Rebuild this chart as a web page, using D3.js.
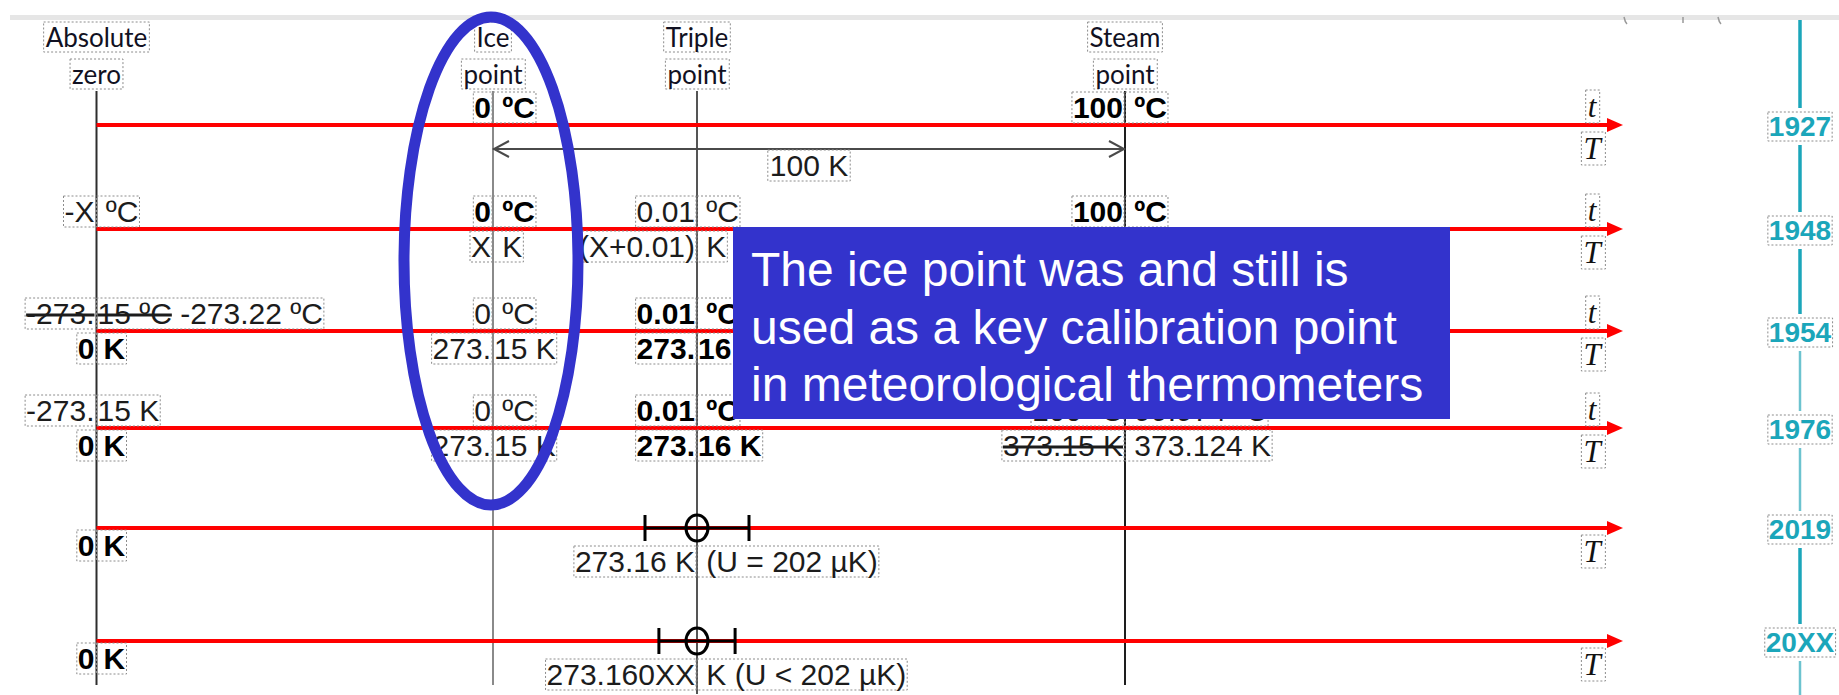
<!DOCTYPE html>
<head>
<title>Fixed points of the temperature scale, 1927 - 20XX</title>
<meta charset="utf-8">
<style>
body { margin: 0; background: #fff; }
svg { display: block; }
text { white-space: pre; }
.num { font: 30px "Liberation Sans", Arial, sans-serif; fill: #1c1c1c; }
.num.defined { font-weight: bold; fill: #000; }
.head { font: 26px Lato, "Open Sans", sans-serif; fill: #111122; }
.box { fill: none; stroke: #8c8c8c; stroke-width: 1; stroke-dasharray: 2,2; }
.year { font: bold 28px "Liberation Sans", Arial, sans-serif; fill: #1ba6ba; }
.var { font: italic 31px "Liberation Serif", serif; fill: #111; }
.note text { font: 48px "Liberation Sans", Arial, sans-serif; fill: #fff; }
</style>
</head>
<body>
<svg width="1839" height="695"></svg>
<script src="https://d3js.org/d3.v7.min.js"></script>
<script>
/* global d3 */
const years = ["1927", "1948", "1954", "1976", "2019", "20XX"];
const points = ["abs", "ice", "triple", "steam"];
const pointNames = [["Absolute", "zero"], ["Ice", "point"], ["Triple", "point"], ["Steam", "point"]];
// years whose scale still shows a Celsius axis t above the arrow
const celsiusYears = ["1927", "1948", "1954", "1976"];
// uncertainty of the triple point (µK)
const tpYears = ["2019", "20XX"];
const tpUncertainty = [202, 148];
const intervalLabel = "100 K";
const note = ["The ice point was and still is", "used as a key calibration point", "in meteorological thermometers"];

// label text: left of the point line | right of it; ~...~ = struck out; defined = fixed by definition
const labels = [
  {year: "1927", point: "ice", side: "above", left: "0", right: " ºC", defined: true},
  {year: "1927", point: "steam", side: "above", left: "100", right: " ºC", defined: true},
  {year: "1948", point: "abs", side: "above", left: "-X", right: " ºC"},
  {year: "1948", point: "ice", side: "above", left: "0", right: " ºC", defined: true},
  {year: "1948", point: "ice", side: "below", left: "X", right: " K"},
  {year: "1948", point: "triple", side: "above", left: "0.01", right: " ºC"},
  {year: "1948", point: "triple", side: "below", left: "(X+0.01)", right: " K"},
  {year: "1948", point: "steam", side: "above", left: "100", right: " ºC", defined: true},
  {year: "1954", point: "abs", side: "above", left: "~-273.~", right: "~15 ºC~ -273.22 ºC"},
  {year: "1954", point: "abs", side: "below", left: "0", right: "\u2009K", defined: true},
  {year: "1954", point: "ice", side: "above", left: "0", right: " ºC"},
  {year: "1954", point: "ice", side: "below", left: "273.", right: "15 K"},
  {year: "1954", point: "triple", side: "above", left: "0.01", right: " ºC", defined: true},
  {year: "1954", point: "triple", side: "below", left: "273.", right: "16 K", defined: true},
  {year: "1976", point: "abs", side: "above", left: "-273.", right: "15 K"},
  {year: "1976", point: "abs", side: "below", left: "0", right: "\u2009K", defined: true},
  {year: "1976", point: "ice", side: "above", left: "0", right: " ºC"},
  {year: "1976", point: "ice", side: "below", left: "273.", right: "15 K"},
  {year: "1976", point: "triple", side: "above", left: "0.01", right: " ºC", defined: true},
  {year: "1976", point: "triple", side: "below", left: "273.", right: "16 K", defined: true},
  {year: "1976", point: "steam", side: "above", left: "~100 ºC~", right: " 99.974 ºC"},
  {year: "1976", point: "steam", side: "below", left: "~373.15 K~", right: " 373.124 K"},
  {year: "2019", point: "abs", side: "below", left: "0", right: "\u2009K", defined: true},
  {year: "2019", point: "triple", side: "under", left: "273.16 K", right: " (U = 202 µK)"},
  {year: "20XX", point: "abs", side: "below", left: "0", right: "\u2009K", defined: true},
  {year: "20XX", point: "triple", side: "under", left: "273.160XX", right: " K (U < 202 µK)"}
];

const svg = d3.select("svg");
const x = d3.scaleOrdinal().domain(points).range([96.5, 493, 697, 1125]);
const y = d3.scaleOrdinal().domain(years).range([125, 229, 331, 428, 528, 641]);
const u = d3.scaleLinear().domain([0, 202]).range([0, 52]);
const axisEnd = 1623;
const yearX = 1800;

// thin grey strip along the top, with the cut-off feet of glyphs above it
svg.append("rect").attr("x", 10).attr("y", 15).attr("width", 1829).attr("height", 5).attr("fill", "#e6e6e6");
svg.append("g").attr("stroke", "#999").attr("stroke-width", 1.5).attr("fill", "none")
  .selectAll("path").data([1625, 1683, 1719]).join("path")
  .attr("d", (d, i) => i === 1 ? `M${d},17 L${d},23` : `M${d - 1},17 Q${d},22 ${d + 2},24`);

// vertical lines of the fixed points
const lineColor = {abs: "#2e2e2e", ice: "#8a8a8a", triple: "#555", steam: "#1e1e1e"};
svg.append("g").selectAll("line").data(points).join("line")
  .attr("x1", x).attr("x2", x)
  .attr("y1", 91).attr("y2", d => d === "triple" ? 694 : 685)
  .attr("stroke", d => lineColor[d]).attr("stroke-width", 2);

// 100 K interval between ice and steam point
const iy = y("1927") + 24;
const ig = svg.append("g").attr("stroke", "#4a4a4a").attr("stroke-width", 2).attr("fill", "none");
ig.append("line").attr("x1", x("ice")).attr("x2", x("steam")).attr("y1", iy).attr("y2", iy);
ig.append("path").attr("d", `M${x("ice") + 16},${iy - 8} L${x("ice") + 1},${iy} L${x("ice") + 16},${iy + 8}`);
ig.append("path").attr("d", `M${x("steam") - 16},${iy - 8} L${x("steam") - 1},${iy} L${x("steam") - 16},${iy + 8}`);

// red scale arrows
const arrows = svg.append("g");
arrows.selectAll("line").data(years).join("line")
  .attr("x1", x("abs")).attr("x2", axisEnd - 12)
  .attr("y1", y).attr("y2", y)
  .attr("stroke", "#ff0000").attr("stroke-width", 4);
arrows.selectAll("path").data(years).join("path")
  .attr("d", d => `M${axisEnd},${y(d)} L${axisEnd - 16},${y(d) - 7} L${axisEnd - 16},${y(d) + 7} Z`)
  .attr("fill", "#ff0000");

// triple point with its uncertainty
const eb = svg.append("g").selectAll("g").data(tpYears).join("g")
  .attr("stroke", "#000").attr("stroke-width", 3).attr("fill", "none");
eb.append("line")
  .attr("x1", (d, i) => x("triple") - u(tpUncertainty[i])).attr("x2", (d, i) => x("triple") + u(tpUncertainty[i]))
  .attr("y1", y).attr("y2", y);
eb.append("line")
  .attr("x1", (d, i) => x("triple") - u(tpUncertainty[i])).attr("x2", (d, i) => x("triple") - u(tpUncertainty[i]))
  .attr("y1", d => y(d) - 13).attr("y2", d => y(d) + 13);
eb.append("line")
  .attr("x1", (d, i) => x("triple") + u(tpUncertainty[i])).attr("x2", (d, i) => x("triple") + u(tpUncertainty[i]))
  .attr("y1", d => y(d) - 13).attr("y2", d => y(d) + 13);
eb.append("ellipse").attr("cx", x("triple")).attr("cy", y).attr("rx", 11).attr("ry", 13);

function addText(g, s, px, py, anchor) {
  const t = g.append("text").attr("x", px).attr("y", py).attr("text-anchor", anchor);
  s.split("~").forEach((piece, i) => {
    if (piece) t.append("tspan").text(piece).attr("text-decoration", i % 2 ? "line-through" : null);
  });
  return t;
}
function frame(g, t, pad) {
  const b = t.node().getBBox();
  g.insert("rect", ":first-child").attr("class", "box")
    .attr("x", b.x - pad).attr("y", b.y + 1).attr("width", b.width + 2 * pad).attr("height", b.height - 2);
}

// value labels
const offset = {above: -7, below: 28, under: 44};
const lg = svg.append("g");
labels.forEach(l => {
  const g = lg.append("g").attr("class", "num" + (l.defined ? " defined" : ""));
  const by = y(l.year) + offset[l.side];
  const cx = x(l.point);
  [addText(g, l.left, cx - 2, by, "end"), addText(g, l.right, cx + 1, by, "start")]
    .forEach(t => frame(g, t, 1));
});
svg.append("g").attr("class", "num")
  .call(g => frame(g, addText(g, intervalLabel, (x("ice") + x("steam")) / 2, iy + 27, "middle"), 2));

// column headings
const hg = svg.append("g").attr("class", "head");
points.forEach((p, i) => {
  pointNames[i].forEach((w, k) => frame(hg, addText(hg, w, x(p), 47 + k * 37, "middle"), 2));
});

// t / T axis names
const vg = svg.append("g").attr("class", "var");
celsiusYears.forEach(yr => frame(vg, addText(vg, "t", 1592, y(yr) - 8, "middle"), 2));
years.forEach(yr => frame(vg, addText(vg, "T", 1592, y(yr) + 34, "middle"), 2));

// timeline of years on the right
const yg = svg.append("g").attr("class", "year");
const yBoxes = years.map(yr => {
  const t = addText(yg, yr, yearX, y(yr) + 11, "middle");
  frame(yg, t, 1);
  return t.node().getBBox();
});
const strong = [true, true, true, false, false, true, false];
const ends = [20].concat(yBoxes.flatMap(b => [b.y - 3, b.y + b.height + 3])).concat([695]);
const segs = d3.range(ends.length / 2).map(i => [ends[2 * i], ends[2 * i + 1]]);
svg.append("g").selectAll("line").data(segs).join("line")
  .attr("x1", yearX).attr("x2", yearX)
  .attr("y1", d => d[0]).attr("y2", d => d[1])
  .attr("stroke", (d, i) => strong[i] ? "#1ba6ba" : "#6cc3cf")
  .attr("stroke-width", (d, i) => strong[i] ? 3.5 : 2.5);

// blue ellipse round the ice point
svg.append("ellipse")
  .attr("cx", x("ice") - 2).attr("cy", 261).attr("rx", 87).attr("ry", 244)
  .attr("fill", "none").attr("stroke", "#3333cc").attr("stroke-width", 11);

// note box
const ng = svg.append("g").attr("class", "note");
ng.append("rect").attr("x", 733).attr("y", 227).attr("width", 717).attr("height", 192).attr("fill", "#3333cc");
ng.selectAll("text").data(note).join("text")
  .attr("x", 751).attr("y", (d, i) => 286 + i * 57.5)
  .text(d => d);
</script>
</body>
